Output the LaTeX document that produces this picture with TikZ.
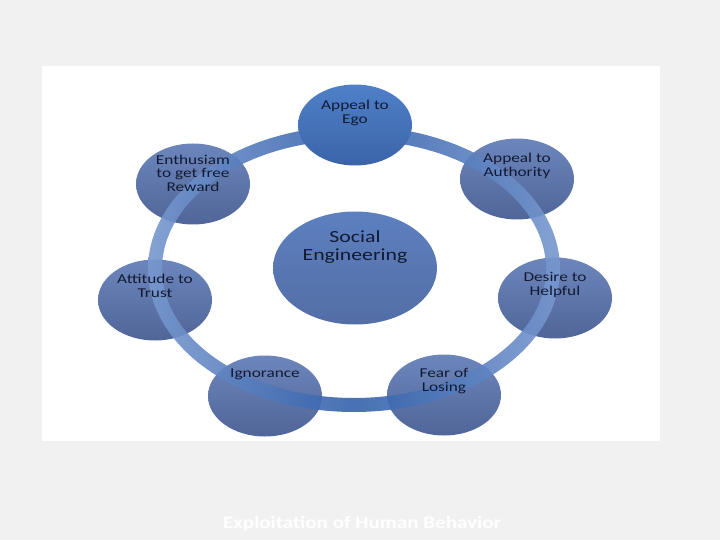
\documentclass[tikz,border=0pt]{standalone}
\usepackage{fontspec}
\setmainfont{Carlito}
\newfontfamily\wide[FakeStretch=1.28]{Carlito}
\newfontfamily\widefoot[FakeStretch=1.2]{Carlito}
\usetikzlibrary{shapes.geometric}
\definecolor{bgc}{HTML}{F1F1F1}
\definecolor{txt}{HTML}{121A33}
\definecolor{outtop}{HTML}{6C86BC}
\definecolor{outbot}{HTML}{506598}
\definecolor{egotop}{HTML}{4F80C8}
\definecolor{egobot}{HTML}{3B64A8}
\definecolor{cntop}{HTML}{5D80C0}
\definecolor{cnbot}{HTML}{536EA5}
\definecolor{ringlight}{HTML}{7898CF}
\definecolor{ringdark}{HTML}{3462AC}
\tikzset{
  bub/.style={ellipse, minimum width=114pt, minimum height=81pt, inner sep=0pt,
    top color=outtop, bottom color=outbot, draw=none},
  lab/.style={text=txt, align=center, font=\wide\fontsize{13.5}{13.5}\selectfont, inner sep=0pt},
}
\begin{document}
\begin{tikzpicture}[x=1pt,y=-1pt]
\fill[bgc] (0,0) rectangle (720,540);
\useasboundingbox (0,0) rectangle (720,540);
\fill[white] (42,66) rectangle (660,441);
% outer bubbles
\node[bub] (ent) at (193,184) {};
\node[bub] (aut) at (517,179) {};
\node[bub] (att) at (155,300) {};
\node[bub] (des) at (555,298) {};
\node[bub] (ign) at (265,396) {};
\node[bub] (fea) at (444,395) {};
% ring
\coordinate (rc) at (354,269);
\path[even odd rule, left color=ringlight, right color=ringlight, middle color=ringdark, fill opacity=0.9]
  (rc) ellipse [x radius=206, y radius=143]
  (rc) ellipse [x radius=192, y radius=129];
% top bubble over ring
\node[bub, top color=egotop, bottom color=egobot] (ego) at (355,125) {};
% center
\node[ellipse, minimum width=164pt, minimum height=113pt, inner sep=0pt,
  top color=cntop, bottom color=cnbot] (se) at (355,268) {};
% labels
\node[lab] (tego) at ([yshift=12pt]ego.center) {Appeal to\\Ego};
\node[lab] (tent) at ([yshift=11pt]ent.center) {Enthusiam\\to get free\\Reward};
\node[lab] (taut) at ([yshift=13pt]aut.center) {Appeal to\\Authority};
\node[lab] (tatt) at ([yshift=14pt]att.center) {Attitude to\\Trust};
\node[lab] (tdes) at ([yshift=13pt]des.center) {Desire to\\Helpful};
\node[lab] (tign) at ([yshift=22pt]ign.center) {Ignorance};
\node[lab] (tfea) at ([yshift=14pt]fea.center) {Fear of\\Losing};
\node[lab, font=\wide\fontsize{17}{17.5}\selectfont] (tse) at ([yshift=21pt]se.center) {Social\\Engineering};
% footer
\node[text=white, font=\widefoot\fontsize{17.5}{19}\selectfont\bfseries] (foot) at (362,524) {Exploitation of Human Behavior};
\end{tikzpicture}
\end{document}
